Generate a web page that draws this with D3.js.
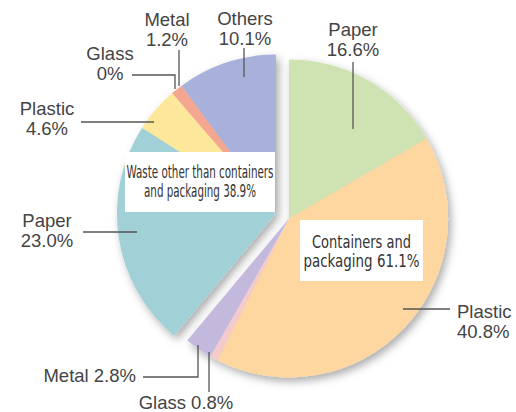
<!DOCTYPE html>
<html>
<head>
<meta charset="utf-8">
<script src="https://cdn.jsdelivr.net/npm/d3@7"></script>
<style>
  body { margin: 0; background: #fff; }
  svg { display: block; }
</style>
</head>
<body>
<div id="chart"></div>
<script>
// data
var groupNames = ["Containers and packaging", "Waste other than containers and packaging"];
var groupTotals = [61.1, 38.9];
var containerMaterials = ["Paper", "Plastic", "Glass", "Metal"];
var containerValues = [16.6, 40.8, 0.8, 2.8];
var otherMaterials = ["Paper", "Plastic", "Glass", "Metal", "Others"];
var otherValues = [23.0, 4.6, 0, 1.2, 10.1];

var width = 516, height = 412;
var cx = 282.5, cy = 216, radius = 159, explode = 7;

var colors = {
    c_Paper: '#cfe2b1', c_Plastic: '#fdd6a0', c_Glass: '#f4cacd', c_Metal: '#c3b9dd',
    o_Paper: '#a1d1d6', o_Plastic: '#fde79b', o_Glass: '#f3b9a8', o_Metal: '#f5a690', o_Others: '#a7b1d9'
};

// label layout: text lines, anchor, x, first baseline, leader points
var labelLayout = [
    { lines: ["Paper", "16.6%"], anchor: 'middle', x: 353, y: 36, leader: [[353, 62], [353, 129]] },
    { lines: ["Plastic", "40.8%"], anchor: 'start', x: 457, y: 318, leader: [[450, 309], [403, 309]] },
    { lines: ["Glass 0.8%"], anchor: 'middle', x: 186, y: 409, leader: [[209, 392], [209, 352]] },
    { lines: ["Metal 2.8%"], anchor: 'end', x: 136, y: 382, leader: [[143, 377], [198, 377], [198, 345]] },
    { lines: ["Paper", "23.0%"], anchor: 'middle', x: 47, y: 227, leader: [[83, 232], [137, 232]] },
    { lines: ["Plastic", "4.6%"], anchor: 'middle', x: 47, y: 115, leader: [[81, 122], [154, 122]] },
    { lines: ["Glass", "0%"], anchor: 'middle', x: 110, y: 60, leader: [[132, 75], [175, 75], [175, 89]] },
    { lines: ["Metal", "1.2%"], anchor: 'middle', x: 167, y: 26, leader: [[179, 50], [179, 86]] },
    { lines: ["Others", "10.1%"], anchor: 'middle', x: 245, y: 25, leader: [[244, 48], [244, 77]] }
];

var boxLayout = [
    { x: 125, y: 152, w: 150, h: 60, lines: ["Waste other than containers", "and packaging " + groupTotals[1] + "%"], tl: [147, 112], ty: 178, lh: 19 },
    { x: 300, y: 220, w: 123, h: 61, lines: ["Containers and", "packaging " + groupTotals[0] + "%"], tl: [99, 116], ty: 248, lh: 19 }
];

var slices = [];
containerValues.forEach(function(v, i) {
    slices.push({ g: 0, name: containerMaterials[i], key: 'c_' + containerMaterials[i], value: v });
});
otherValues.forEach(function(v, i) {
    slices.push({ g: 1, name: otherMaterials[i], key: 'o_' + otherMaterials[i], value: v });
});

var pie = d3.pie().sort(null).value(function(d) { return d.value; });
var arcs = pie(slices);

var arc = d3.arc().innerRadius(0).outerRadius(radius);

var svg = d3.select('#chart').append('svg').attr('width', width).attr('height', height);

var defs = svg.append('defs');
var shadow = defs.append('filter').attr('id', 'pie_shadow')
    .attr('x', '-20%').attr('y', '-20%').attr('width', '140%').attr('height', '140%');
shadow.append('feDropShadow').attr('dx', 3).attr('dy', 4).attr('stdDeviation', 4)
    .attr('flood-color', '#000').attr('flood-opacity', 0.33);

// group explode offsets along each group's mid angle
var groupOffsets = [0, 1].map(function(g) {
    var a = arcs.filter(function(d) { return d.data.g == g; });
    var start = d3.min(a, function(d) { return d.startAngle; });
    var end = d3.max(a, function(d) { return d.endAngle; });
    var mid = (start + end) / 2;
    return [cx + Math.sin(mid) * explode, cy - Math.cos(mid) * explode];
});

[1, 0].forEach(function(g) {
    var grp = svg.append('g')
        .attr('transform', 'translate(' + groupOffsets[g][0] + ',' + groupOffsets[g][1] + ')')
        .attr('filter', 'url(#pie_shadow)');
    grp.selectAll('path')
        .data(arcs.filter(function(d) { return d.data.g == g; }))
        .enter().append('path')
        .attr('d', arc)
        .attr('fill', function(d) { return colors[d.data.key]; });
});

// boxes
boxLayout.forEach(function(b) {
    svg.append('rect').attr('x', b.x).attr('y', b.y).attr('width', b.w).attr('height', b.h).attr('fill', '#fff');
    b.lines.forEach(function(line, k) {
        svg.append('text')
            .attr('x', b.x + b.w / 2).attr('y', b.ty + k * b.lh)
            .attr('text-anchor', 'middle')
            .attr('textLength', b.tl[k]).attr('lengthAdjust', 'spacingAndGlyphs')
            .attr('style', 'font-size:17px; fill:#333; font-family:"Liberation Sans Narrow", "DejaVu Sans Condensed", sans-serif')
            .text(line);
    });
});

// leaders and labels
var line = d3.line();
labelLayout.forEach(function(l) {
    svg.append('path').attr('d', line(l.leader)).attr('fill', 'none')
        .attr('stroke', '#555').attr('stroke-width', 1.3);
    l.lines.forEach(function(t, k) {
        svg.append('text')
            .attr('x', l.x).attr('y', l.y + k * 19.5)
            .attr('text-anchor', l.anchor)
            .attr('style', 'font-size:18.5px; fill:#444; font-family:"Liberation Sans", sans-serif')
            .text(t);
    });
});
</script>
</body>
</html>
